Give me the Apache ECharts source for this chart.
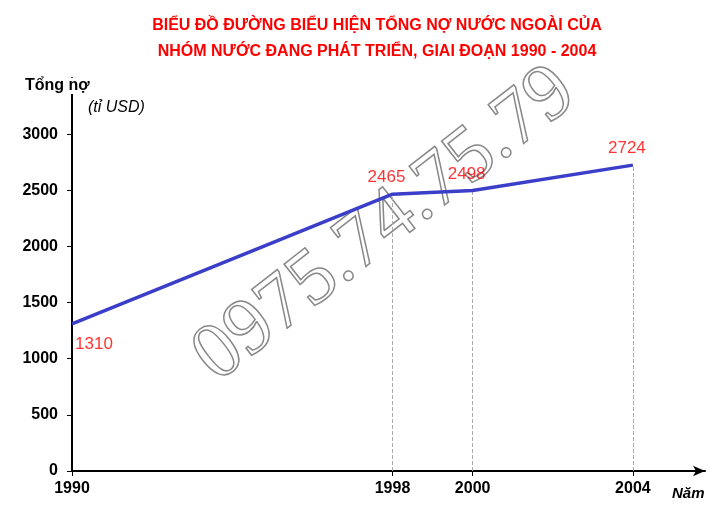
<!DOCTYPE html><html><head><meta charset="utf-8"><script src="https://cdn.jsdelivr.net/npm/echarts@6/dist/echarts.min.js"></script>
<style>html,body{margin:0;background:#fff}#c{width:723px;height:516px}</style></head><body><div id="c"></div><script>
const years=[1990,1998,2000,2004];
const debt=[1310,2465,2498,2724];
const yTicks=[0,500,1000,1500,2000,2500,3000];
const chart=echarts.init(document.getElementById('c'));
const pts=years.map((y,i)=>[y,debt[i]]);
chart.setOption({
 animation:false,
 title:{text:'BIỂU ĐỒ ĐƯỜNG BIỂU HIỆN TỔNG NỢ NƯỚC NGOÀI CỦA\nNHÓM NƯỚC ĐANG PHÁT TRIỂN, GIAI ĐOẠN 1990 - 2004',left:372,textAlign:'center',top:8,
  textStyle:{color:'#ff0000',fontSize:16,fontWeight:'bold',fontFamily:'Liberation Sans',lineHeight:26}},
 grid:{left:72,right:18,top:78,bottom:45,containLabel:false},
 xAxis:{type:'value',min:1990,max:2005.8,
  axisLine:{lineStyle:{color:'#000',width:2},symbol:['none','arrow'],symbolSize:[8,12]},
  axisTick:{customValues:years,length:5,lineStyle:{color:'#000'}},
  axisLabel:{customValues:years,formatter:v=>String(v),color:'#000',fontWeight:'bold',fontSize:16,fontFamily:'Liberation Sans',margin:10},
  splitLine:{show:false}},
 yAxis:{type:'value',min:0,max:3500,interval:500,
  axisLine:{show:true,lineStyle:{color:'#000',width:2},symbol:['none','arrow'],symbolSize:[8,12]},
  axisTick:{show:true,customValues:yTicks,length:5,lineStyle:{color:'#000'}},
  axisLabel:{customValues:yTicks,formatter:v=>String(v),color:'#000',fontWeight:'bold',fontSize:16,fontFamily:'Liberation Sans',margin:14},
  splitLine:{show:false}},
 graphic:[
  {type:'text',left:25,top:78,z:200,style:{text:'Tổng nợ',font:'bold 16px Liberation Sans',fill:'#000',backgroundColor:'#fff'}},
  {type:'text',left:88,top:100,style:{text:'(tỉ USD)',font:'italic 16px Liberation Sans',fill:'#000'}},
  {type:'text',left:672,top:486,z:200,style:{text:'Năm',font:'italic bold 15px Liberation Sans',fill:'#000'}},
  {type:'text',x:385,y:225,rotation:Math.PI*38/180,
   style:{text:'0975.74.75.79',font:'80px Liberation Sans Narrow',fill:'rgba(255,255,255,0)',stroke:'#888',lineWidth:1.5,align:'center',verticalAlign:'middle'},z:-1}
 ],
 series:[{type:'line',data:pts,symbol:'none',z:5,lineStyle:{color:'#3a3ec8',width:3.5},
  markLine:{silent:true,symbol:'none',label:{show:false},lineStyle:{color:'#aaa',type:'dashed',width:1},
   data:pts.slice(1).map(p=>[{coord:[p[0],0]},{coord:p}])}
 },
 {type:'scatter',symbolSize:2,itemStyle:{color:'rgba(0,0,0,0)'},z:50,
  label:{show:true,color:'#ff0000',fontSize:17,fontFamily:'Liberation Sans'},
  data:pts.map((p,i)=>({value:p,label:{formatter:String(p[1]),position:i===0?'bottom':'top',offset:i===0?[22,6]:[-6,-2]}}))}]
});
</script></body></html>
